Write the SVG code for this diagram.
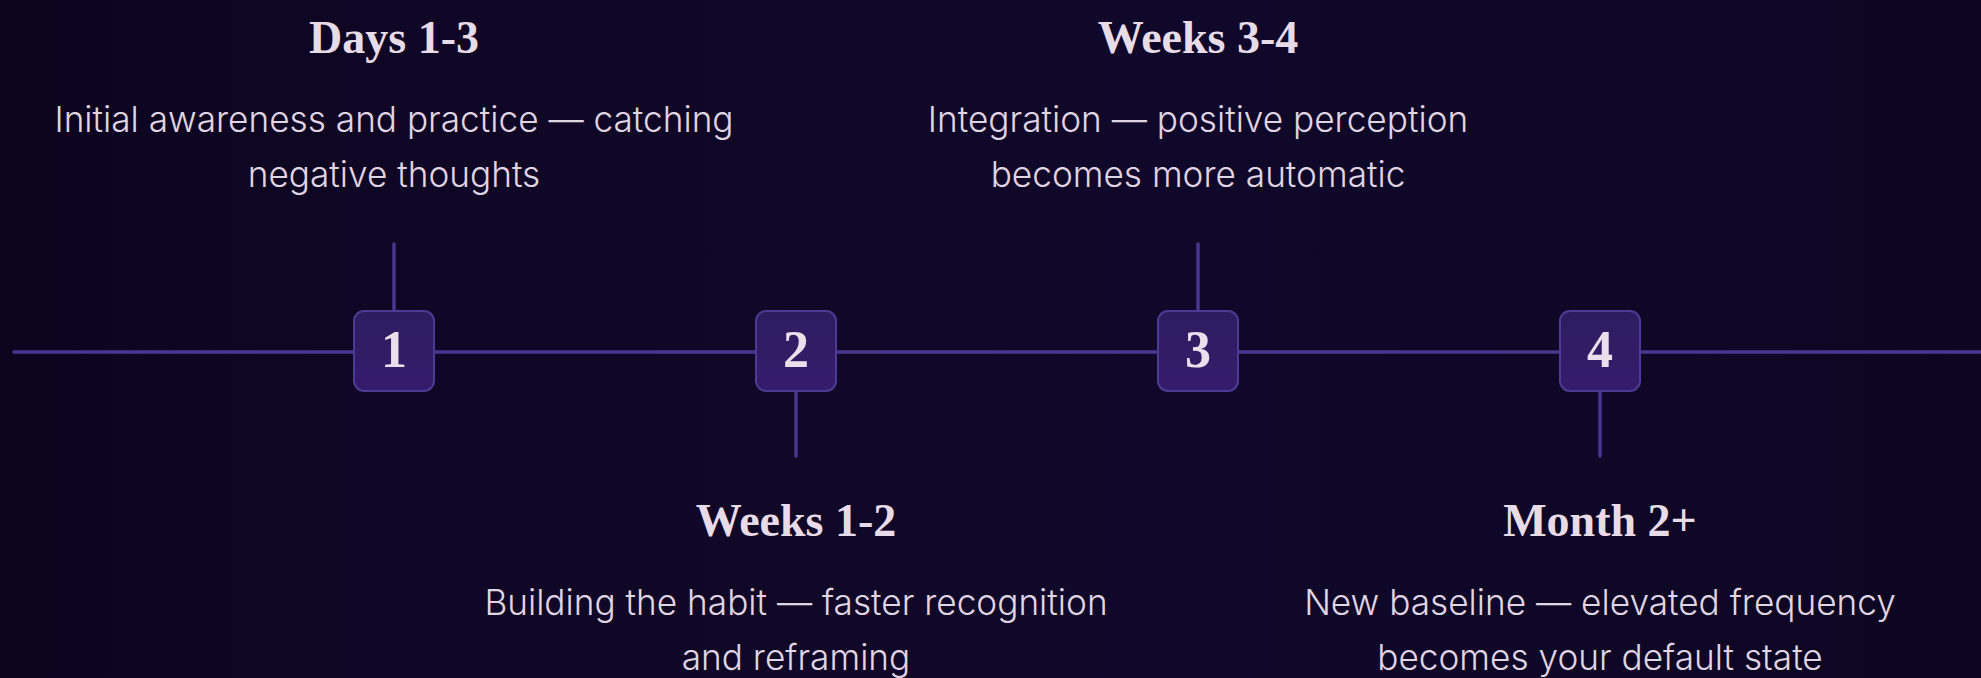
<svg xmlns="http://www.w3.org/2000/svg" width="1981" height="678" viewBox="0 0 1981 678">
  <defs>
    <linearGradient id="bg" x1="0" y1="0" x2="1" y2="0">
      <stop offset="0" stop-color="#0c0520"/>
      <stop offset="0.4" stop-color="#110828"/>
      <stop offset="0.6" stop-color="#10082a"/>
      <stop offset="1" stop-color="#0d0622"/>
    </linearGradient>
    <linearGradient id="boxfill" x1="0" y1="0" x2="0" y2="1">
      <stop offset="0" stop-color="#2e1c5f"/>
      <stop offset="1" stop-color="#351c6c"/>
    </linearGradient>
    <style>
      .line { stroke: #4a3590; stroke-width: 3.5; stroke-linecap: round; fill: none; }
      .box { fill: url(#boxfill); stroke: #4d3a94; stroke-width: 2; }
      .num { font-family: "Liberation Serif", "DejaVu Serif", serif; font-weight: bold; font-size: 52px; fill: #ebdfeb; text-anchor: middle; }
      .title { font-family: "Liberation Serif", "DejaVu Serif", serif; font-weight: bold; font-size: 46px; fill: #e8dbe8; text-anchor: middle; }
      .desc { font-family: Inter, "Noto Sans", "Liberation Sans", sans-serif; font-weight: 300; font-size: 35.2px; fill: #e0d5e3; text-anchor: middle; }
    </style>
  </defs>
  <rect x="0" y="0" width="1981" height="678" fill="url(#bg)"/>

  <g id="connectors">
    <line class="line" x1="14" y1="352" x2="1990" y2="352"/>
    <line class="line" x1="394" y1="244" x2="394" y2="311"/>
    <line class="line" x1="796" y1="391" x2="796" y2="456"/>
    <line class="line" x1="1198" y1="244" x2="1198" y2="311"/>
    <line class="line" x1="1600" y1="391" x2="1600" y2="456"/>
  </g>

  <g id="node-1">
    <rect class="box" x="354" y="311" width="80" height="80" rx="10"/>
    <text class="num" x="394" y="367">1</text>
    <text class="title" x="394" y="53">Days 1-3</text>
    <text class="desc" x="394" y="132">Initial awareness and practice — catching</text>
    <text class="desc" x="394" y="187">negative thoughts</text>
  </g>

  <g id="node-2">
    <rect class="box" x="756" y="311" width="80" height="80" rx="10"/>
    <text class="num" x="796" y="367">2</text>
    <text class="title" x="796" y="536">Weeks 1-2</text>
    <text class="desc" x="796" y="615">Building the habit — faster recognition</text>
    <text class="desc" x="796" y="670">and reframing</text>
  </g>

  <g id="node-3">
    <rect class="box" x="1158" y="311" width="80" height="80" rx="10"/>
    <text class="num" x="1198" y="367">3</text>
    <text class="title" x="1198" y="53">Weeks 3-4</text>
    <text class="desc" x="1198" y="132">Integration — positive perception</text>
    <text class="desc" x="1198" y="187">becomes more automatic</text>
  </g>

  <g id="node-4">
    <rect class="box" x="1560" y="311" width="80" height="80" rx="10"/>
    <text class="num" x="1600" y="367">4</text>
    <text class="title" x="1600" y="536">Month 2+</text>
    <text class="desc" x="1600" y="615">New baseline — elevated frequency</text>
    <text class="desc" x="1600" y="670">becomes your default state</text>
  </g>
</svg>
